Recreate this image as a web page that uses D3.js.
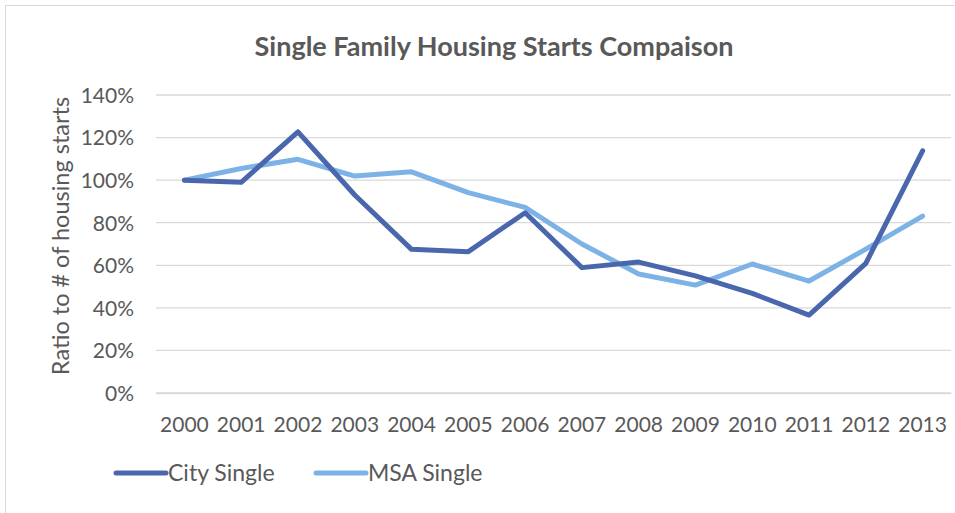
<!DOCTYPE html>
<html>
<head>
<meta charset="utf-8">
<script src="https://cdn.jsdelivr.net/npm/d3@7"></script>
<style>
  body { margin: 0; background: #fff; }
  text { font-family: Lato, "Open Sans", sans-serif; fill: #595959; }
</style>
</head>
<body>
<main></main>
<script>
var years = ["2000","2001","2002","2003","2004","2005","2006","2007","2008","2009","2010","2011","2012","2013"]
var citySingle = [100, 99.0, 122.7, 93.0, 67.5, 66.4, 84.7, 58.9, 61.5, 55.0, 46.8, 36.6, 60.9, 113.8]
var msaSingle = [100, 105.5, 109.8, 101.9, 103.9, 94.1, 87.2, 70.0, 55.9, 50.7, 60.6, 52.6, 67.6, 83.1]
var yTicks = [0, 20, 40, 60, 80, 100, 120, 140]
var seriesNames = ["City Single", "MSA Single"]
var seriesColors = ["#4a67ad", "#7db2e6"]

var svg = d3.select("main")
    .append("svg")
    .attr("width", 955)
    .attr("height", 513)

// outer chart border
svg.append("rect")
    .attr("x", 5.5).attr("y", 5.5)
    .attr("width", 960).attr("height", 520)
    .attr("fill", "none")
    .attr("stroke", "#d9d9d9")

svg.append("text")
    .attr("x", 494).attr("y", 56)
    .attr("text-anchor", "middle")
    .style("font-size", "27px")
    .style("font-weight", "bold")
    .text("Single Family Housing Starts Compaison")

var x = d3.scaleBand()
    .domain(years)
    .range([156, 951])

var y = d3.scaleLinear()
    .domain([0, 140])
    .range([393, 95])

// gridlines
svg.append("g")
    .selectAll("line").data(yTicks)
    .enter().append("line")
        .attr("x1", 156).attr("x2", 951)
        .attr("y1", d => y(d)).attr("y2", d => y(d))
        .attr("stroke", "#d9d9d9")
        .attr("stroke-width", 1.3)

var yAxis = svg.append("g")
    .attr("transform", "translate(134,0)")
    .call(d3.axisLeft(y).tickValues(yTicks).tickSize(0).tickFormat(d => d + "%"))
yAxis.select(".domain").remove()
yAxis.selectAll("text")
    .attr("x", 0)
    .attr("dy", "0.35em")
    .style("font-size", "21px")
    .style("font-family", "Lato, sans-serif")
    .attr("fill", "#595959")

var xAxis = svg.append("g")
    .attr("transform", "translate(0,393)")
    .call(d3.axisBottom(x).tickSize(0))
xAxis.select(".domain").attr("stroke", "#d9d9d9").attr("stroke-width", 1.3)
xAxis.selectAll("text")
    .attr("y", 24)
    .style("font-size", "21px")
    .style("font-family", "Lato, sans-serif")
    .attr("fill", "#595959")

svg.append("text")
    .attr("transform", "translate(69,236) rotate(-90)")
    .attr("text-anchor", "middle")
    .style("font-size", "23.5px")
    .text("Ratio to # of housing starts")

var line = d3.line()
    .x((d, i) => x(years[i]) + x.bandwidth() / 2)
    .y(d => y(d))

var series = [citySingle, msaSingle]
// MSA drawn first so city sits on top
svg.append("g")
    .selectAll("path").data([1, 0])
    .enter().append("path")
        .attr("d", i => line(series[i]))
        .attr("fill", "none")
        .attr("stroke", i => seriesColors[i])
        .attr("stroke-width", 5)
        .attr("stroke-linejoin", "round")
        .attr("stroke-linecap", "round")

// legend
var legendX = [116, 316]
var legend = svg.append("g")
    .selectAll("g").data(seriesNames)
    .enter().append("g")
        .attr("transform", (d, i) => "translate(" + legendX[i] + ",473)")
legend.append("line")
    .attr("x1", 0).attr("x2", 50)
    .attr("stroke", (d, i) => seriesColors[i])
    .attr("stroke-width", 5)
    .attr("stroke-linecap", "round")
legend.append("text")
    .attr("x", 52)
    .attr("dy", "0.35em")
    .style("font-size", "23px")
    .text(d => d)
</script>
</body>
</html>
